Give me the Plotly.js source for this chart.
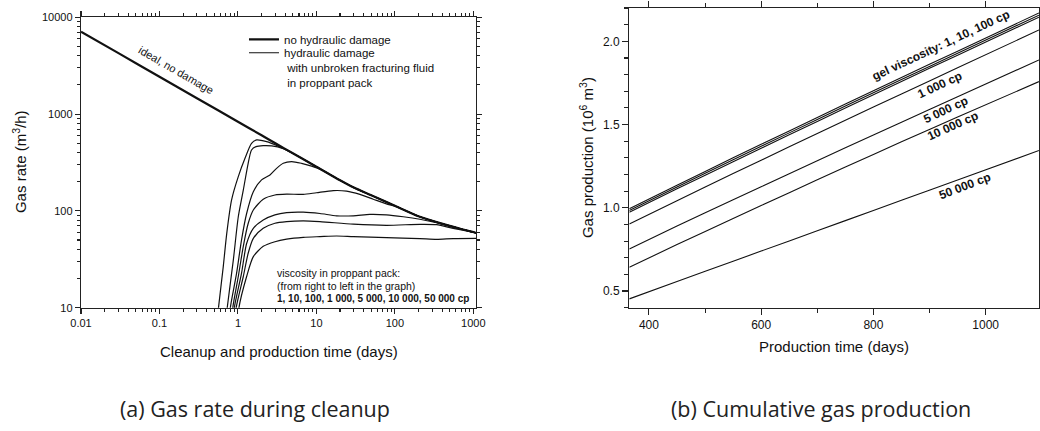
<!DOCTYPE html>
<html>
<head>
<meta charset="utf-8">
<script src="https://cdn.plot.ly/plotly-3.0.1.min.js"></script>
<style>
  html, body { margin: 0; padding: 0; background: #fff; }
  #chart { width: 1040px; height: 431px; }
</style>
</head>
<body>
<div id="chart"></div>
<script>
// ---- (a) gas rate during cleanup, m3/h vs days ----
const idealDays = [0.01, 0.03, 0.1, 0.3, 1, 2, 3, 5, 10, 20, 30, 50, 100, 200, 300, 500, 700, 1000, 1100];
const idealRate = [7100, 4260, 2430, 1460, 834, 604, 500, 394, 286, 207, 174, 145, 113, 88, 79, 70, 65, 60.5, 59];

// damaged wells, one series per gel viscosity in the proppant pack
const visc1Days = [0.54, 0.565, 0.65, 0.72, 0.83, 1.01, 1.23, 1.49, 1.73, 2.32, 3.11, 5, 10, 20, 30, 50, 100, 200, 300, 500, 700, 1000, 1100];
const visc1Rate = [7, 10, 26.6, 58.6, 130, 226, 349, 499, 541, 519, 475, 394, 286, 207, 174, 145, 113, 88, 79, 70, 65, 60.5, 59];

const visc10Days = [0.70, 0.73, 0.873, 1.01, 1.17, 1.35, 1.49, 1.70, 2.10, 2.69, 3.78, 5, 10, 20, 30, 50, 100, 200, 300, 500, 700, 1000, 1100];
const visc10Rate = [7, 10, 31, 87, 164, 310, 426, 461, 472, 469, 440, 394, 286, 207, 174, 145, 113, 88, 79, 70, 65, 60.5, 59];

const visc100Days = [0.78, 0.80, 0.96, 1.11, 1.29, 1.57, 2.0, 2.56, 3.11, 3.78, 4.82, 6.47, 8.68, 11.1, 20, 30, 50, 100, 200, 300, 500, 700, 1000, 1100];
const visc100Rate = [7, 10, 22.6, 50, 94, 158, 209, 235, 275, 310, 323, 310, 290, 270, 207, 174, 145, 113, 88, 79, 70, 65, 60.5, 59];

const visc1000Days = [0.84, 0.86, 1.01, 1.17, 1.35, 1.57, 2.1, 2.96, 4.17, 6.8, 10, 16.4, 24.2, 35.8, 53, 78, 100, 200, 300, 500, 700, 1000, 1100];
const visc1000Rate = [7, 10, 21, 43, 74, 102, 132, 146, 149, 148, 154, 162, 160, 148, 132, 118, 112, 88, 79, 70, 65, 60.5, 59];

const visc5000Days = [0.88, 0.90, 1.11, 1.29, 1.57, 2.1, 2.96, 4.17, 6.8, 11.1, 18.1, 29.5, 48, 78, 128, 208, 340, 553, 1000, 1100];
const visc5000Rate = [7, 10, 22.6, 46, 66, 80.5, 91, 96, 97, 94, 89, 89, 92, 91, 87, 82, 75.5, 68, 60.5, 59];

const visc10000Days = [0.93, 0.95, 1.17, 1.35, 1.57, 2.1, 2.96, 4.17, 6.8, 11.1, 29.5, 78, 208, 340, 553, 1000, 1100];
const visc10000Rate = [7, 10, 21, 36.5, 52, 66, 74.5, 77.4, 78.7, 77.4, 73, 71, 72.6, 72, 66, 60, 59];

const visc50000Days = [1.0, 1.03, 1.29, 1.57, 2.1, 2.96, 4.17, 6.8, 11.1, 18.1, 29.5, 78, 208, 340, 553, 1100];
const visc50000Rate = [7, 10, 21, 33.7, 43, 48, 51, 53.3, 54.2, 55, 54.2, 53, 51.7, 50.8, 51.7, 52];

// ---- (b) cumulative gas production, 10^6 m3 vs days ----
const prodDays = [365, 450, 550, 650, 750, 850, 950, 1095];
const cum1 = [0.995, 1.136, 1.300, 1.462, 1.623, 1.783, 1.941, 2.170];
const cum10 = [0.984, 1.125, 1.289, 1.450, 1.611, 1.770, 1.929, 2.157];
const cum100 = [0.973, 1.114, 1.277, 1.439, 1.599, 1.759, 1.917, 2.145];
const cum1000 = [0.903, 1.043, 1.206, 1.366, 1.526, 1.684, 1.841, 2.068];
const cum5000 = [0.753, 0.890, 1.048, 1.204, 1.360, 1.514, 1.667, 1.888];
const cum10000 = [0.643, 0.779, 0.936, 1.091, 1.245, 1.396, 1.545, 1.758];
const cum50000 = [0.453, 0.557, 0.679, 0.801, 0.923, 1.045, 1.167, 1.344];

const rateXTicks = [0.01, 0.1, 1, 10, 100, 1000];
const rateXTickText = ['0.01', '0.1', '1', '10', '100', '1000'];
const rateYTicks = [10, 100, 1000, 10000];
const rateYTickText = ['10', '100', '1000', '10000'];

const INK = '#111';
const FONT = 'Liberation Sans, Arial, sans-serif';
const CAPTION_FONT = 'Open Sans, sans-serif';

function damaged(x, y, name, show, legendId) {
  return {
    x: x, y: y, xaxis: 'x', yaxis: 'y', type: 'scatter', mode: 'lines',
    name: name, showlegend: show, legend: legendId || 'legend',
    line: { color: INK, width: 1.2, shape: 'spline', smoothing: 0.7 },
    hoverinfo: 'skip'
  };
}
function cumulative(y) {
  return {
    x: prodDays, y: y, xaxis: 'x2', yaxis: 'y2', type: 'scatter', mode: 'lines',
    showlegend: false, line: { color: INK, width: 1.1, shape: 'spline', smoothing: 0.6 },
    hoverinfo: 'skip'
  };
}

const traces = [
  {
    x: idealDays, y: idealRate, xaxis: 'x', yaxis: 'y', type: 'scatter', mode: 'lines',
    name: 'no hydraulic damage', showlegend: true, legend: 'legend',
    line: { color: INK, width: 2.2, shape: 'spline', smoothing: 0.6 }, hoverinfo: 'skip'
  },
  damaged(visc1Days, visc1Rate, 'hydraulic damage<br> with unbroken fracturing fluid<br> in proppant pack', true, 'legend2'),
  damaged(visc10Days, visc10Rate, '10 cp', false),
  damaged(visc100Days, visc100Rate, '100 cp', false),
  damaged(visc1000Days, visc1000Rate, '1 000 cp', false),
  damaged(visc5000Days, visc5000Rate, '5 000 cp', false),
  damaged(visc10000Days, visc10000Rate, '10 000 cp', false),
  damaged(visc50000Days, visc50000Rate, '50 000 cp', false),
  cumulative(cum1), cumulative(cum10), cumulative(cum100),
  cumulative(cum1000), cumulative(cum5000), cumulative(cum10000), cumulative(cum50000)
];

const axisCommon = {
  showline: true, linecolor: '#222', linewidth: 1.3,
  ticks: 'outside', ticklen: 5, tickwidth: 1.1, tickcolor: '#222',
  mirror: 'allticks', showgrid: false, zeroline: false,
  tickfont: { family: FONT, size: 11, color: INK }
};

const legendCommon = {
  xanchor: 'left', yanchor: 'top',
  bgcolor: 'rgba(0,0,0,0)', borderwidth: 0, valign: 'top',
  font: { family: FONT, size: 11.5, color: INK },
  tracegroupgap: 0, itemwidth: 30
};

function note(x, y, text, opts) {
  return Object.assign({
    xref: 'paper', yref: 'paper', x: x, y: y, text: text, showarrow: false,
    xanchor: 'center', yanchor: 'middle',
    font: { family: FONT, size: 11, color: INK }
  }, opts || {});
}
function curveLabel(x, y, text, angle) {
  return {
    xref: 'x2', yref: 'y2', x: x, y: y, text: '<b>' + text + '</b>', textangle: angle,
    showarrow: false, xanchor: 'center', yanchor: 'middle',
    font: { family: FONT, size: 12, color: INK }
  };
}

const layout = {
  width: 1040, height: 431,
  margin: { l: 0, r: 0, t: 0, b: 0 },
  paper_bgcolor: '#fff', plot_bgcolor: '#fff',
  font: { family: FONT, color: INK },
  showlegend: true,
  legend: Object.assign({ x: 0.2346, y: 0.941 }, legendCommon),
  legend2: Object.assign({ x: 0.2346, y: 0.910 }, legendCommon),
  xaxis: Object.assign({}, axisCommon, {
    type: 'log', domain: [0.0779, 0.4577], range: [-2, 3.034], anchor: 'y',
    tickmode: 'array', tickvals: rateXTicks, ticktext: rateXTickText,
    minor: { ticks: 'outside', ticklen: 3, tickcolor: '#222', dtick: 'D1', showgrid: false }
  }),
  yaxis: Object.assign({}, axisCommon, {
    type: 'log', domain: [0.2861, 0.9599], range: [1, 4], anchor: 'x',
    tickmode: 'array', tickvals: rateYTicks, ticktext: rateYTickText,
    minor: { ticks: 'outside', ticklen: 3, tickcolor: '#222', dtick: 'D1', showgrid: false }
  }),
  xaxis2: Object.assign({}, axisCommon, {
    domain: [0.6051, 0.999], range: [365, 1095], anchor: 'y2',
    tick0: 400, dtick: 200, ticklen: 6,
    tickfont: { family: FONT, size: 12, color: INK },
    minor: { ticks: 'outside', ticklen: 4, tickcolor: '#222', dtick: 100, tick0: 400, showgrid: false }
  }),
  yaxis2: Object.assign({}, axisCommon, {
    domain: [0.2861, 0.9814], range: [0.4, 2.2], anchor: 'x2',
    tick0: 0.5, dtick: 0.5, tickformat: '.1f', ticklen: 6,
    tickfont: { family: FONT, size: 12, color: INK },
    minor: { ticks: 'outside', ticklen: 4, tickcolor: '#222', dtick: 0.1, tick0: 0.5, showgrid: false }
  }),
  annotations: [
    // panel (a)
    note(0.1692, 0.8376, 'ideal, no damage', { textangle: 30 }),
    note(0.2644, 0.3673, 'viscosity in proppant pack:', { xanchor: 'left', font: { family: FONT, size: 10.5, color: INK } }),
    note(0.2644, 0.3364, '(from right to left in the graph)', { xanchor: 'left', font: { family: FONT, size: 10.5, color: INK } }),
    note(0.2644, 0.3078, '<b>1, 10, 100, 1 000, 5 000, 10 000, 50 000 cp</b>', { xanchor: 'left', font: { family: FONT, size: 10, color: INK } }),
    note(0.0183, 0.6241, 'Gas rate (m<sup>3</sup>/h)', { textangle: -90, font: { family: FONT, size: 15, color: INK } }),
    note(0.2678, 0.1833, 'Cleanup and production time (days)', { font: { family: FONT, size: 15, color: INK } }),
    note(0.2452, 0.052, '(a) Gas rate during cleanup', { font: { family: CAPTION_FONT, size: 21.5, color: '#222' } }),
    // panel (b)
    curveLabel(921, 1.975, 'gel viscosity: 1, 10, 100 cp', -25),
    curveLabel(918, 1.738, '1 000 cp', -25),
    curveLabel(928, 1.588, '5 000 cp', -25),
    curveLabel(941, 1.489, '10 000 cp', -24),
    curveLabel(963, 1.128, '50 000 cp', -21),
    note(0.5635, 0.6334, 'Gas production (10<sup>6</sup> m<sup>3</sup>)', { textangle: -90, font: { family: FONT, size: 15, color: INK } }),
    note(0.8019, 0.1949, 'Production time (days)', { font: { family: FONT, size: 15, color: INK } }),
    note(0.7894, 0.052, '(b) Cumulative gas production', { font: { family: CAPTION_FONT, size: 21.5, color: '#222' } })
  ]
};

Plotly.newPlot('chart', traces, layout, { staticPlot: true, displayModeBar: false });
</script>
</body>
</html>
